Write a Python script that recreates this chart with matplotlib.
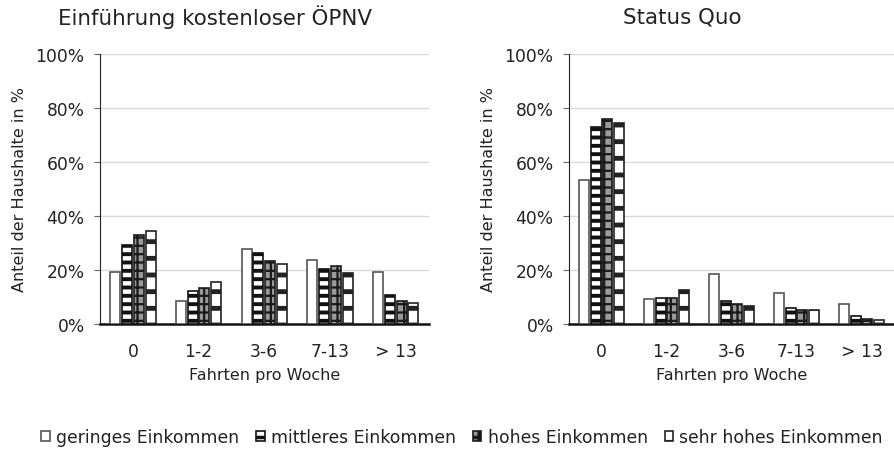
import matplotlib
matplotlib.use("Agg")
from matplotlib import pyplot as plt
import numpy as np

plt.rcParams['font.family'] = ['DejaVu Sans']
plt.rcParams['hatch.linewidth'] = 2.5

kategorien = ['0', '1-2', '3-6', '7-13', '> 13']
gruppen = ['geringes Einkommen', 'mittleres Einkommen', 'hohes Einkommen', 'sehr hohes Einkommen']

# Einführung kostenloser ÖPNV (Anteil in %)
kostenlos_gering = [19.4, 8.6, 27.9, 23.7, 19.4]
kostenlos_mittel = [29.1, 12.3, 26.4, 20.5, 10.9]
kostenlos_hoch = [33.0, 13.4, 23.2, 21.4, 8.4]
kostenlos_sehrhoch = [34.3, 15.7, 22.3, 19.0, 7.8]

# Status Quo (Anteil in %)
quo_gering = [53.3, 9.2, 18.4, 11.4, 7.5]
quo_mittel = [72.9, 9.5, 8.4, 6.1, 3.1]
quo_hoch = [76.0, 9.7, 7.3, 5.1, 1.9]
quo_sehrhoch = [74.6, 12.5, 6.5, 5.1, 1.4]

# Stil je Einkommensgruppe: (facecolor, edgecolor, hatch, hatch-Linienbreite)
stile = [('white', '#555555', None, 1.0),
         ('white', '#111111', '--', 2.8),
         ('#9a9a9a', '#1a1a1a', '++', 1.6),
         ('white', '#222222', '-', 3.5)]

fig = plt.figure(figsize=(8.94, 4.52), dpi=100)
ax1 = fig.add_axes([100 / 894, 127 / 452, 328.5 / 894, 270 / 452])
ax2 = fig.add_axes([569 / 894, 127 / 452, 325 / 894, 270 / 452])

breite = 0.152
schritt = 0.18
x = np.arange(len(kategorien))


def zeichne(ax, reihen):
    bars = []
    for i, werte in enumerate(reihen):
        fc, ec, h, hlw = stile[i]
        b = ax.bar(x + (i - 1.5) * schritt, np.array(werte) / 100, breite,
                   facecolor=fc, edgecolor=ec, hatch=h, linewidth=1.2,
                   label=gruppen[i], zorder=3)
        for p in b:
            if hasattr(p, 'set_hatch_linewidth'):
                p.set_hatch_linewidth(hlw)
        bars.append(b)
    ax.set_xlim(-0.5, len(kategorien) - 0.5)
    ax.set_ylim(0, 1.0)
    ax.set_yticks(np.linspace(0, 1, 6))
    ax.set_yticklabels([f'{int(v)}%' for v in np.linspace(0, 100, 6)])
    ax.set_xticks(x)
    ax.set_xticklabels(kategorien)
    ax.grid(axis='y', color='#d9d9d9', linewidth=1, zorder=0)
    ax.set_axisbelow(True)
    for s in ['top', 'right']:
        ax.spines[s].set_visible(False)
    ax.spines['left'].set_color('#222222')
    ax.spines['bottom'].set_color('#111111')
    ax.spines['bottom'].set_linewidth(1.8)
    ax.tick_params(axis='y', length=4, color='#666666', pad=7, labelsize=12.3, labelcolor='#222222')
    ax.tick_params(axis='x', length=0, pad=13, labelsize=12.3, labelcolor='#222222')
    ax.set_xlabel('Fahrten pro Woche', fontsize=11.5, color='#222222', labelpad=5)
    ax.set_ylabel('Anteil der Haushalte in %', fontsize=11.5, color='#222222', labelpad=6)
    return bars


bars = zeichne(ax1, [kostenlos_gering, kostenlos_mittel, kostenlos_hoch, kostenlos_sehrhoch])
zeichne(ax2, [quo_gering, quo_mittel, quo_hoch, quo_sehrhoch])

fig.text(215 / 894, 1 - 17 / 452, 'Einführung kostenloser ÖPNV', ha='center', va='center',
         fontsize=15.4, color='#222222')
fig.text(682 / 894, 1 - 17 / 452, 'Status Quo', ha='center', va='center',
         fontsize=15.4, color='#222222')

fig.legend(handles=bars, labels=gruppen, loc='center', bbox_to_anchor=(462 / 894, 1 - 438 / 452),
           ncol=4, frameon=False, fontsize=12.4, handlelength=0.5, handleheight=0.5,
           handletextpad=0.35, columnspacing=1.0, labelcolor='#222222')

fig.savefig('out.png', dpi=100)
